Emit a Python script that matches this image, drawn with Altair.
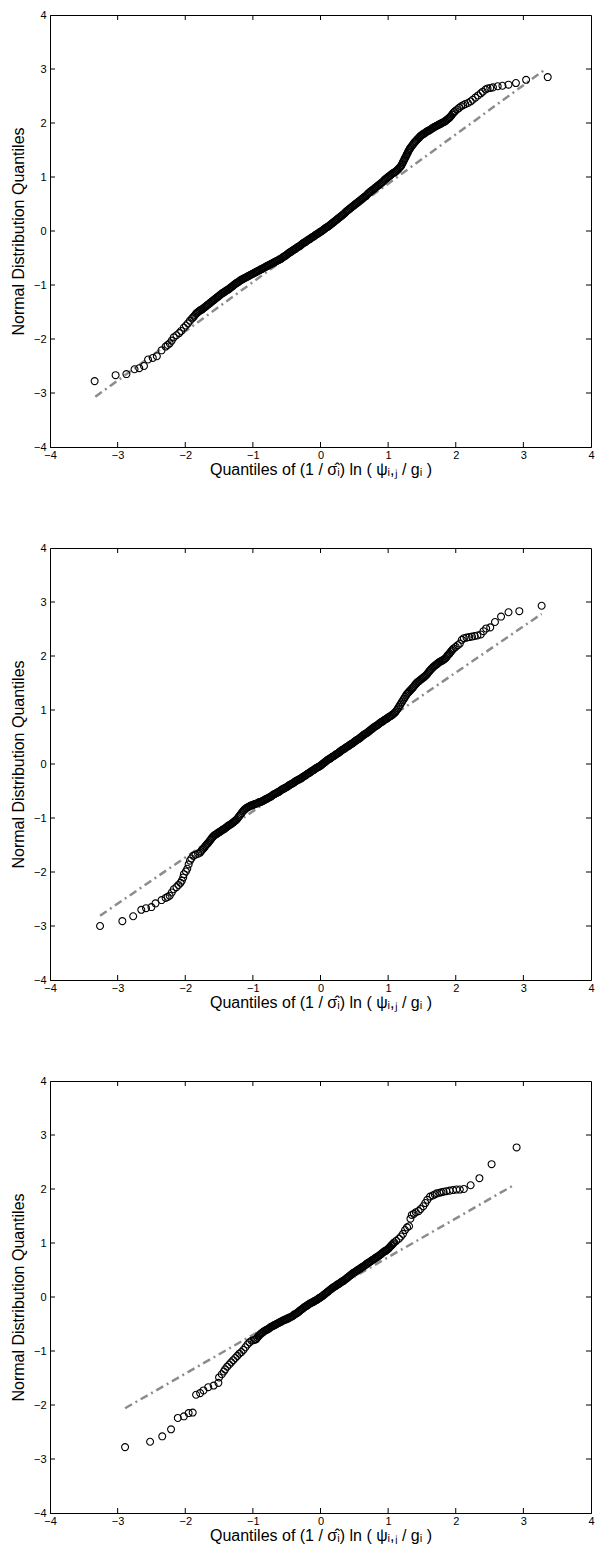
import altair as alt
import pandas as pd

# ---------------- data ----------------
# Panel 1
X1 = [-3.34, -3.03, -2.87, -2.75, -2.68, -2.61, -2.55, -2.48, -2.42, -2.35, -2.29, -2.26, -2.23, -2.20,
      -2.17, -2.13, -2.09, -2.06, -2.02, -1.99, -1.96, -1.93,
      -1.90, -1.87, -1.84, -1.81, -1.78, -1.75, -1.72, -1.69, -1.66, -1.63, -1.60, -1.57, -1.54, -1.51,
      -1.48, -1.45, -1.42, -1.39, -1.36, -1.33, -1.30, -1.27, -1.24, -1.21, -1.18, -1.15, -1.12, -1.09,
      -1.06, -1.03, -1.00, -0.97, -0.94, -0.91, -0.88, -0.85, -0.82, -0.79, -0.76, -0.73, -0.70, -0.67,
      -0.64, -0.61, -0.58, -0.55, -0.52, -0.49, -0.46, -0.43, -0.40, -0.37, -0.34, -0.31, -0.28, -0.25,
      -0.22, -0.19, -0.16, -0.13, -0.10, -0.07, -0.04, -0.01, 0.02, 0.05, 0.08, 0.11, 0.14, 0.17, 0.20,
      0.23, 0.26, 0.29, 0.32, 0.35, 0.38, 0.41, 0.44, 0.47, 0.50, 0.53, 0.56, 0.59, 0.62, 0.65, 0.68,
      0.71, 0.74, 0.77, 0.80, 0.83, 0.86, 0.89, 0.92, 0.95, 0.98, 1.01, 1.04, 1.07, 1.10, 1.13, 1.16,
      1.19, 1.21, 1.23, 1.25, 1.27, 1.29, 1.31, 1.33, 1.36, 1.39, 1.42, 1.45, 1.48, 1.51, 1.54, 1.57,
      1.60, 1.63, 1.66, 1.69, 1.72, 1.75, 1.78, 1.81, 1.84, 1.87, 1.90, 1.93, 1.96, 1.99, 2.02, 2.05,
      2.08, 2.11, 2.14, 2.18, 2.22, 2.25, 2.29, 2.33, 2.37, 2.40, 2.44, 2.47, 2.51, 2.55, 2.62, 2.69,
      2.78, 2.89, 3.04, 3.36]
Y1 = [-2.78, -2.67, -2.65, -2.56, -2.54, -2.50, -2.38, -2.35, -2.32, -2.21, -2.14, -2.11, -2.08, -2.03,
      -1.97, -1.93, -1.89, -1.85, -1.79, -1.75, -1.71, -1.66,
      -1.62, -1.58, -1.53, -1.50, -1.47, -1.45, -1.42, -1.39, -1.36, -1.33, -1.30, -1.27, -1.24, -1.21,
      -1.18, -1.15, -1.13, -1.10, -1.08, -1.05, -1.02, -0.99, -0.96, -0.94, -0.91, -0.89, -0.87, -0.85,
      -0.83, -0.81, -0.79, -0.77, -0.75, -0.73, -0.71, -0.69, -0.67, -0.65, -0.63, -0.61, -0.59, -0.57,
      -0.55, -0.53, -0.51, -0.48, -0.46, -0.43, -0.40, -0.38, -0.35, -0.33, -0.30, -0.28, -0.25, -0.22,
      -0.20, -0.17, -0.15, -0.12, -0.10, -0.07, -0.05, -0.02, 0.00, 0.03, 0.06, 0.08, 0.11, 0.14, 0.17,
      0.20, 0.23, 0.26, 0.29, 0.32, 0.36, 0.39, 0.42, 0.45, 0.48, 0.51, 0.54, 0.57, 0.60, 0.63, 0.66,
      0.70, 0.73, 0.76, 0.79, 0.82, 0.85, 0.88, 0.91, 0.95, 0.98, 1.01, 1.04, 1.07, 1.09, 1.12, 1.16,
      1.20, 1.25, 1.30, 1.35, 1.40, 1.45, 1.50, 1.54, 1.59, 1.64, 1.68, 1.72, 1.76, 1.79, 1.81, 1.84,
      1.86, 1.88, 1.91, 1.93, 1.95, 1.97, 1.99, 2.01, 2.03, 2.06, 2.09, 2.13, 2.18, 2.22, 2.25, 2.28,
      2.31, 2.33, 2.35, 2.37, 2.40, 2.43, 2.47, 2.51, 2.55, 2.58, 2.62, 2.64, 2.65, 2.66, 2.68, 2.69,
      2.71, 2.74, 2.80, 2.85]
# dense core of panel 1, between the points above
X1B = [-1.885, -1.855, -1.825, -1.795, -1.765, -1.735, -1.705, -1.675, -1.645, -1.615, -1.585, -1.555,
       -1.525, -1.495, -1.465, -1.435, -1.405, -1.375, -1.345, -1.315, -1.285, -1.255, -1.225, -1.195,
       -1.165, -1.135, -1.105, -1.075, -1.045, -1.015, -0.985, -0.955, -0.925, -0.895, -0.865, -0.835,
       -0.805, -0.775, -0.745, -0.715, -0.685, -0.655, -0.625, -0.595, -0.565, -0.535, -0.505, -0.475,
       -0.445, -0.415, -0.385, -0.355, -0.325, -0.295, -0.265, -0.235, -0.205, -0.175, -0.145, -0.115,
       -0.085, -0.055, -0.025, 0.005, 0.035, 0.065, 0.095, 0.125, 0.155, 0.185, 0.215, 0.245, 0.275,
       0.305, 0.335, 0.365, 0.395, 0.425, 0.455, 0.485, 0.515, 0.545, 0.575, 0.605, 0.635, 0.665, 0.695,
       0.725, 0.755, 0.785, 0.815, 0.845, 0.875, 0.905, 0.935, 0.965, 0.995, 1.025, 1.055, 1.085, 1.115,
       1.145, 1.175, 1.20, 1.22, 1.24, 1.26, 1.28, 1.30, 1.32, 1.345, 1.375, 1.405, 1.435, 1.465, 1.495,
       1.525, 1.555, 1.585, 1.615, 1.645, 1.675, 1.705, 1.735, 1.765, 1.795, 1.825, 1.855, 1.885, 1.915,
       1.945, 1.975]
Y1B = [-1.60, -1.555, -1.515, -1.485, -1.46, -1.435, -1.405, -1.375, -1.345, -1.315, -1.285, -1.255,
       -1.225, -1.195, -1.165, -1.14, -1.115, -1.09, -1.065, -1.035, -1.005, -0.975, -0.95, -0.925,
       -0.90, -0.88, -0.86, -0.84, -0.82, -0.80, -0.78, -0.76, -0.74, -0.72, -0.70, -0.68,
       -0.66, -0.64, -0.62, -0.60, -0.58, -0.56, -0.54, -0.52, -0.495, -0.47, -0.445, -0.415,
       -0.39, -0.365, -0.34, -0.315, -0.29, -0.265, -0.235, -0.21, -0.185, -0.16, -0.135, -0.11,
       -0.085, -0.06, -0.035, -0.01, 0.015, 0.045, 0.07, 0.095, 0.125, 0.155, 0.185, 0.215, 0.245,
       0.275, 0.305, 0.34, 0.375, 0.405, 0.435, 0.465, 0.495, 0.525, 0.555, 0.585, 0.615, 0.645, 0.68,
       0.715, 0.745, 0.775, 0.805, 0.835, 0.865, 0.895, 0.93, 0.965, 0.995, 1.025, 1.055, 1.08, 1.105,
       1.14, 1.18, 1.225, 1.275, 1.325, 1.375, 1.425, 1.475, 1.52, 1.565, 1.615, 1.66, 1.70, 1.74, 1.775,
       1.80, 1.825, 1.85, 1.87, 1.895, 1.92, 1.94, 1.96, 1.98, 2.00, 2.02, 2.045, 2.075, 2.11,
       2.155, 2.20]
LX1 = [-3.33, 3.33]
LY1 = [-3.07, 3.00]

# Panel 2
X2 = [-3.26, -2.93, -2.77, -2.65, -2.58, -2.50, -2.44, -2.35, -2.29, -2.26, -2.23, -2.20, -2.17, -2.13,
      -2.10, -2.07, -2.05, -2.03, -2.02, -1.99, -1.97, -1.95, -1.93, -1.91, -1.88, -1.85, -1.81,
      -1.78, -1.75, -1.72, -1.69, -1.66, -1.63, -1.60, -1.57, -1.54, -1.51, -1.48, -1.45, -1.42, -1.39,
      -1.36, -1.33, -1.30, -1.27, -1.24, -1.21, -1.18, -1.15, -1.12, -1.09, -1.06, -1.03, -1.00, -0.97,
      -0.94, -0.91, -0.88, -0.85, -0.82, -0.79, -0.76, -0.73, -0.70, -0.67, -0.64, -0.61, -0.58, -0.55,
      -0.52, -0.49, -0.46, -0.43, -0.40, -0.37, -0.34, -0.31, -0.28, -0.25, -0.22, -0.19, -0.16, -0.13,
      -0.10, -0.07, -0.04, -0.01, 0.02, 0.05, 0.08, 0.11, 0.14, 0.17, 0.20, 0.23, 0.26, 0.29, 0.32,
      0.35, 0.38, 0.41, 0.44, 0.47, 0.50, 0.53, 0.56, 0.59, 0.62, 0.65, 0.68, 0.71, 0.74, 0.77, 0.80,
      0.83, 0.86, 0.89, 0.92, 0.95, 0.98, 1.01, 1.04, 1.07, 1.10, 1.13, 1.16, 1.19, 1.22, 1.25, 1.28,
      1.31, 1.34, 1.37, 1.40, 1.43, 1.46, 1.49, 1.52, 1.55, 1.58, 1.61, 1.64, 1.67, 1.70, 1.73, 1.76,
      1.79, 1.82, 1.85, 1.88, 1.91, 1.94, 1.97, 2.00, 2.03, 2.06, 2.09, 2.12, 2.16, 2.20, 2.24, 2.28,
      2.32, 2.37, 2.41, 2.45, 2.51, 2.58, 2.67, 2.78, 2.94, 3.27]
Y2 = [-3.00, -2.91, -2.82, -2.70, -2.67, -2.65, -2.58, -2.52, -2.48, -2.46, -2.44, -2.38, -2.32, -2.28,
      -2.24, -2.20, -2.16, -2.10, -2.04, -1.99, -1.94, -1.86, -1.79, -1.75, -1.70, -1.68, -1.66,
      -1.64, -1.59, -1.55, -1.50, -1.46, -1.41, -1.36, -1.32, -1.30, -1.27, -1.25, -1.22, -1.20, -1.17,
      -1.14, -1.12, -1.09, -1.06, -1.03, -0.98, -0.93, -0.88, -0.84, -0.81, -0.79, -0.77, -0.76, -0.74,
      -0.73, -0.71, -0.70, -0.68, -0.66, -0.64, -0.62, -0.60, -0.57, -0.55, -0.53, -0.51, -0.48, -0.46,
      -0.44, -0.42, -0.39, -0.37, -0.35, -0.32, -0.30, -0.28, -0.26, -0.23, -0.21, -0.18, -0.16, -0.13,
      -0.11, -0.08, -0.06, -0.04, -0.01, 0.02, 0.05, 0.08, 0.10, 0.13, 0.15, 0.18, 0.20, 0.23, 0.26,
      0.28, 0.31, 0.33, 0.36, 0.38, 0.41, 0.44, 0.46, 0.49, 0.52, 0.55, 0.57, 0.60, 0.63, 0.66, 0.69,
      0.71, 0.74, 0.77, 0.79, 0.82, 0.84, 0.87, 0.89, 0.92, 0.95, 1.00, 1.06, 1.12, 1.18, 1.24, 1.30,
      1.34, 1.38, 1.42, 1.47, 1.51, 1.54, 1.57, 1.60, 1.63, 1.67, 1.72, 1.76, 1.80, 1.83, 1.86, 1.89,
      1.91, 1.93, 1.96, 2.01, 2.05, 2.10, 2.14, 2.17, 2.20, 2.23, 2.30, 2.33, 2.34, 2.35, 2.36, 2.37,
      2.38, 2.40, 2.46, 2.51, 2.53, 2.63, 2.73, 2.81, 2.83, 2.93]
X2B = [-1.765, -1.735, -1.705, -1.675, -1.645, -1.615, -1.585, -1.555, -1.525, -1.495, -1.465, -1.435,
       -1.405, -1.375, -1.345, -1.315, -1.285, -1.255, -1.225, -1.195, -1.165, -1.135, -1.105, -1.075,
       -1.045, -1.015, -0.985, -0.955, -0.925, -0.895, -0.865, -0.835, -0.805, -0.775, -0.745, -0.715,
       -0.685, -0.655, -0.625, -0.595, -0.565, -0.535, -0.505, -0.475, -0.445, -0.415, -0.385, -0.355,
       -0.325, -0.295, -0.265, -0.235, -0.205, -0.175, -0.145, -0.115, -0.085, -0.055, -0.025, 0.005,
       0.035, 0.065, 0.095, 0.125, 0.155, 0.185, 0.215, 0.245, 0.275, 0.305, 0.335, 0.365, 0.395, 0.425,
       0.455, 0.485, 0.515, 0.545, 0.575, 0.605, 0.635, 0.665, 0.695, 0.725, 0.755, 0.785, 0.815, 0.845,
       0.875, 0.905, 0.935, 0.965, 0.995, 1.025, 1.055, 1.085, 1.115, 1.145, 1.175, 1.205, 1.235, 1.265,
       1.295, 1.325, 1.355, 1.385, 1.415, 1.445, 1.475, 1.505, 1.535, 1.565, 1.595, 1.625, 1.655, 1.685,
       1.715, 1.745, 1.775, 1.805, 1.835, 1.865, 1.895, 1.925, 1.955]
Y2B = [-1.615, -1.57, -1.525, -1.48, -1.435, -1.385, -1.34, -1.31, -1.285, -1.26, -1.235, -1.21,
       -1.185, -1.155, -1.13, -1.105, -1.075, -1.045, -1.005, -0.955, -0.905, -0.86, -0.825, -0.80,
       -0.78, -0.765, -0.75, -0.735, -0.72, -0.705, -0.69, -0.67, -0.65, -0.63, -0.61, -0.585,
       -0.56, -0.54, -0.52, -0.495, -0.47, -0.45, -0.43, -0.405, -0.38, -0.36, -0.335, -0.31,
       -0.29, -0.27, -0.245, -0.22, -0.195, -0.17, -0.145, -0.12, -0.095, -0.07, -0.05, -0.025,
       0.005, 0.035, 0.065, 0.09, 0.115, 0.14, 0.165, 0.19, 0.215, 0.245, 0.27, 0.295, 0.32, 0.345,
       0.37, 0.395, 0.425, 0.45, 0.475, 0.505, 0.535, 0.56, 0.585, 0.615, 0.645, 0.675, 0.70, 0.725,
       0.755, 0.78, 0.805, 0.83, 0.855, 0.88, 0.905, 0.935, 0.975, 1.03, 1.09, 1.15, 1.21, 1.27,
       1.32, 1.36, 1.40, 1.445, 1.49, 1.525, 1.555, 1.585, 1.615, 1.65, 1.695, 1.74, 1.78, 1.815,
       1.845, 1.875, 1.90, 1.92, 1.945, 1.985, 2.03, 2.075, 2.12]
LX2 = [-3.26, 3.27]
LY2 = [-2.81, 2.78]

# Panel 3
X3 = [-2.89, -2.52, -2.34, -2.21, -2.11, -2.02, -1.95, -1.89, -1.84, -1.78, -1.73, -1.66, -1.58, -1.51,
      -1.50, -1.46, -1.43, -1.41, -1.38, -1.35, -1.32, -1.29, -1.26, -1.23, -1.20, -1.17, -1.14, -1.11,
      -1.08, -1.05, -1.02, -0.99, -0.97,
      -0.95, -0.92, -0.89, -0.86, -0.83, -0.80, -0.77, -0.74, -0.71, -0.68, -0.65, -0.62, -0.59, -0.56,
      -0.53, -0.50, -0.47, -0.44, -0.41, -0.38, -0.35, -0.32, -0.29, -0.26, -0.23, -0.20, -0.17, -0.14,
      -0.11, -0.08, -0.05, -0.02, 0.01, 0.04, 0.07, 0.10, 0.13, 0.16, 0.19, 0.22, 0.25, 0.28, 0.31,
      0.34, 0.37, 0.40, 0.43, 0.46, 0.49, 0.52, 0.55, 0.58, 0.61, 0.64, 0.67, 0.70, 0.73, 0.76, 0.79,
      0.82, 0.85, 0.88, 0.91, 0.94, 0.97, 1.00, 1.03, 1.06, 1.09, 1.12, 1.16, 1.19,
      1.22, 1.25, 1.28, 1.31, 1.33, 1.35, 1.38, 1.41, 1.45, 1.48, 1.52, 1.55, 1.58, 1.62, 1.66, 1.69,
      1.72, 1.76, 1.79, 1.82, 1.86, 1.91, 1.96, 2.01, 2.06, 2.12, 2.22, 2.35, 2.53, 2.90]
Y3 = [-2.78, -2.68, -2.58, -2.45, -2.24, -2.21, -2.15, -2.14, -1.81, -1.78, -1.73, -1.67, -1.64, -1.59,
      -1.49, -1.43, -1.38, -1.34, -1.29, -1.25, -1.21, -1.17, -1.13, -1.09, -1.05, -1.02, -0.98, -0.93,
      -0.88, -0.84, -0.81, -0.80, -0.79,
      -0.78, -0.73, -0.69, -0.66, -0.63, -0.61, -0.59, -0.56, -0.54, -0.52, -0.50, -0.48, -0.46, -0.44,
      -0.42, -0.41, -0.39, -0.37, -0.35, -0.32, -0.30, -0.27, -0.24, -0.21, -0.18, -0.16, -0.13, -0.11,
      -0.09, -0.07, -0.05, -0.02, 0.00, 0.03, 0.06, 0.09, 0.12, 0.15, 0.18, 0.20, 0.23, 0.25, 0.28,
      0.30, 0.33, 0.36, 0.39, 0.42, 0.45, 0.47, 0.50, 0.52, 0.55, 0.57, 0.60, 0.63, 0.65, 0.68, 0.70,
      0.73, 0.75, 0.78, 0.81, 0.84, 0.86, 0.89, 0.93, 0.97, 1.01, 1.04, 1.08, 1.12,
      1.17, 1.24, 1.29, 1.31, 1.45, 1.52, 1.54, 1.57, 1.59, 1.63, 1.68, 1.74, 1.80, 1.86, 1.88, 1.90,
      1.92, 1.93, 1.94, 1.95, 1.96, 1.97, 1.98, 1.99, 1.99, 2.00, 2.07, 2.20, 2.46, 2.77]
X3B = [-0.935, -0.905, -0.875, -0.845, -0.815, -0.785, -0.755, -0.725, -0.695, -0.665, -0.635, -0.605,
       -0.575, -0.545, -0.515, -0.485, -0.455, -0.425, -0.395, -0.365, -0.335, -0.305, -0.275, -0.245,
       -0.215, -0.185, -0.155, -0.125, -0.095, -0.065, -0.035, -0.005, 0.025, 0.055, 0.085, 0.115,
       0.145, 0.175, 0.205, 0.235, 0.265, 0.295, 0.325, 0.355, 0.385, 0.415, 0.445, 0.475, 0.505, 0.535,
       0.565, 0.595, 0.625, 0.655, 0.685, 0.715, 0.745, 0.775, 0.805, 0.835, 0.865, 0.895, 0.925, 0.955,
       0.985, 1.015, 1.045, 1.075]
Y3B = [-0.755, -0.71, -0.675, -0.645, -0.62, -0.60, -0.575, -0.55, -0.53, -0.51, -0.49, -0.47,
       -0.45, -0.43, -0.415, -0.40, -0.38, -0.36, -0.335, -0.31, -0.285, -0.255, -0.225, -0.195,
       -0.17, -0.145, -0.12, -0.10, -0.08, -0.06, -0.035, -0.01, 0.015, 0.045, 0.075, 0.105,
       0.135, 0.165, 0.19, 0.215, 0.24, 0.265, 0.29, 0.315, 0.345, 0.375, 0.405, 0.435, 0.46, 0.485,
       0.51, 0.535, 0.56, 0.585, 0.615, 0.64, 0.665, 0.69, 0.715, 0.74, 0.765, 0.795, 0.825, 0.85,
       0.875, 0.91, 0.95, 0.99]
LX3 = [-2.89, 2.87]
LY3 = [-2.06, 2.08]

AXIS_VALUES = [-4, -3, -2, -1, 0, 1, 2, 3, 4]
INNER_TICKS = [-3, -2, -1, 0, 1, 2, 3]
X_TITLE = "Quantiles of (1 / σ̂ᵢ) ln ( ψᵢ,ⱼ / gᵢ )"
Y_TITLE = "Normal Distribution Quantiles"

# ---------------- styling ----------------
W, H = 541, 432
FONT = "Liberation Sans"
TL = 5  # inward tick length (px)


def panel(xs, ys, xb, yb, lx, ly):
    pts = pd.DataFrame({"x": xs + xb, "y": ys + yb})
    ln = pd.DataFrame({"x": lx, "y": ly})
    tk = pd.DataFrame({"t": INNER_TICKS})
    sx = alt.Scale(domain=[-4, 4], nice=False, zero=False)
    sy = alt.Scale(domain=[-4, 4], nice=False, zero=False)
    common = dict(values=AXIS_VALUES, format="d", grid=False, ticks=False, tickSize=0,
                  labelFlush=False, labelFontSize=11, titleFontSize=16,
                  labelFont=FONT, titleFont=FONT, titleFontWeight="normal",
                  domainColor="black", labelColor="black", titleColor="black")
    xaxis = alt.Axis(title=X_TITLE, labelPadding=2, titlePadding=1, **common)
    yaxis = alt.Axis(title=Y_TITLE, labelPadding=4, titlePadding=7, **common)

    line = alt.Chart(ln).mark_line(color="#8c8c8c", strokeWidth=2.5, strokeDash=[8, 4, 2, 4]).encode(
        x=alt.X("x:Q", scale=sx, axis=xaxis), y=alt.Y("y:Q", scale=sy, axis=yaxis))
    points = alt.Chart(pts).mark_point(shape="circle", filled=False, color="black", size=48,
                                       strokeWidth=1.1, opacity=1).encode(
        x=alt.X("x:Q", scale=sx), y=alt.Y("y:Q", scale=sy))
    tb = alt.Chart(tk).mark_rule(color="black", strokeWidth=1).encode(
        x=alt.X("t:Q", scale=sx), y=alt.value(H), y2=alt.value(H - TL))
    tt = alt.Chart(tk).mark_rule(color="black", strokeWidth=1).encode(
        x=alt.X("t:Q", scale=sx), y=alt.value(0), y2=alt.value(TL))
    tl = alt.Chart(tk).mark_rule(color="black", strokeWidth=1).encode(
        y=alt.Y("t:Q", scale=sy), x=alt.value(0), x2=alt.value(TL))
    tr = alt.Chart(tk).mark_rule(color="black", strokeWidth=1).encode(
        y=alt.Y("t:Q", scale=sy), x=alt.value(W), x2=alt.value(W - TL))
    return alt.layer(line, points, tb, tt, tl, tr).properties(width=W, height=H)


chart = alt.vconcat(
    panel(X1, Y1, X1B, Y1B, LX1, LY1),
    panel(X2, Y2, X2B, Y2B, LX2, LY2),
    panel(X3, Y3, X3B, Y3B, LX3, LY3),
    spacing=63,
).properties(
    padding={"left": 1, "top": 0, "right": 0, "bottom": 0},
    background="white",
).configure_view(stroke="black", strokeWidth=1)

chart.save("out.html", embed_options={"renderer": "svg", "actions": False})
